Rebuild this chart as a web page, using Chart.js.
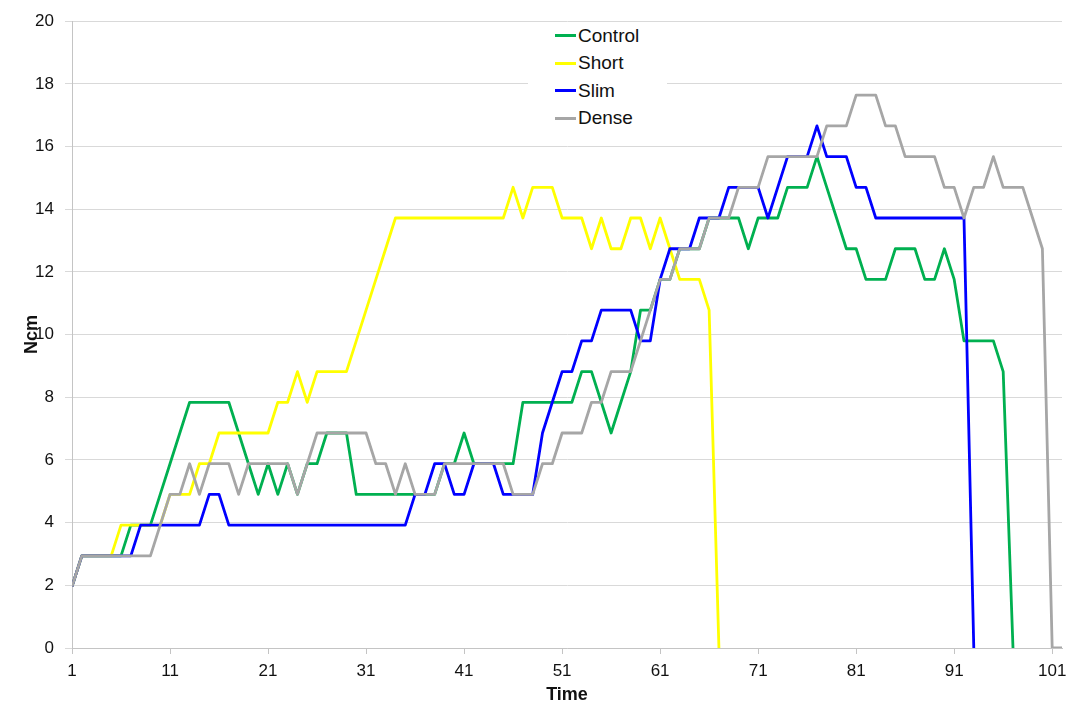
<!DOCTYPE html>
<html>
<head>
<meta charset="utf-8">
<title>Ncm over time</title>
<script src="https://cdn.jsdelivr.net/npm/chart.js@4/dist/chart.umd.min.js"></script>
<style>
  body { margin: 0; background: #fff; }
  #wrap { position: relative; width: 1070px; height: 707px; }
  #legend {
    position: absolute; left: 528px; top: 22px; width: 139px; height: 112px;
    background: #fff; font-family: "Liberation Sans", Arial, sans-serif;
    font-size: 19px; color: #111;
  }
  .item { display: flex; align-items: center; height: 27.5px; }
  .swatch { width: 21px; height: 3px; margin-left: 27px; margin-right: 2px; }
</style>
</head>
<body>
<div id="wrap">
  <canvas id="chart" width="1070" height="707"></canvas>
  <div id="legend"></div>
</div>
<script>
// time steps 1..102 on the x axis
const time = Array.from({length: 102}, (_, i) => i + 1)
const xTicks = [1, 11, 21, 31, 41, 51, 61, 71, 81, 91, 101]

const names = ['Control', 'Short', 'Slim', 'Dense']
const colors = ['#00b050', '#ffff00', '#0000ff', '#a6a6a6']

// Ncm values, 10 per row
const control = [
  1.96, 2.94, 2.94, 2.94, 2.94, 2.94, 3.92, 3.92, 3.92, 4.9,
  5.88, 6.86, 7.84, 7.84, 7.84, 7.84, 7.84, 6.86, 5.88, 4.9,
  5.88, 4.9, 5.88, 4.9, 5.88, 5.88, 6.86, 6.86, 6.86, 4.9,
  4.9, 4.9, 4.9, 4.9, 4.9, 4.9, 4.9, 4.9, 5.88, 5.88,
  6.86, 5.88, 5.88, 5.88, 5.88, 5.88, 7.84, 7.84, 7.84, 7.84,
  7.84, 7.84, 8.82, 8.82, 7.84, 6.86, 7.84, 8.82, 10.78, 10.78,
  11.76, 11.76, 12.74, 12.74, 12.74, 13.72, 13.72, 13.72, 13.72, 12.74,
  13.72, 13.72, 13.72, 14.7, 14.7, 14.7, 15.68, 14.7, 13.72, 12.74,
  12.74, 11.76, 11.76, 11.76, 12.74, 12.74, 12.74, 11.76, 11.76, 12.74,
  11.76, 9.8, 9.8, 9.8, 9.8, 8.82, 0, null, null, null,
  null, null
]
const short = [
  1.96, 2.94, 2.94, 2.94, 2.94, 3.92, 3.92, 3.92, 3.92, 3.92,
  4.9, 4.9, 4.9, 5.88, 5.88, 6.86, 6.86, 6.86, 6.86, 6.86,
  6.86, 7.84, 7.84, 8.82, 7.84, 8.82, 8.82, 8.82, 8.82, 9.8,
  10.78, 11.76, 12.74, 13.72, 13.72, 13.72, 13.72, 13.72, 13.72, 13.72,
  13.72, 13.72, 13.72, 13.72, 13.72, 14.7, 13.72, 14.7, 14.7, 14.7,
  13.72, 13.72, 13.72, 12.74, 13.72, 12.74, 12.74, 13.72, 13.72, 12.74,
  13.72, 12.74, 11.76, 11.76, 11.76, 10.78, 0, null, null, null,
  null, null, null, null, null, null, null, null, null, null,
  null, null, null, null, null, null, null, null, null, null,
  null, null, null, null, null, null, null, null, null, null,
  null, null
]
const slim = [
  1.96, 2.94, 2.94, 2.94, 2.94, 2.94, 2.94, 3.92, 3.92, 3.92,
  3.92, 3.92, 3.92, 3.92, 4.9, 4.9, 3.92, 3.92, 3.92, 3.92,
  3.92, 3.92, 3.92, 3.92, 3.92, 3.92, 3.92, 3.92, 3.92, 3.92,
  3.92, 3.92, 3.92, 3.92, 3.92, 4.9, 4.9, 5.88, 5.88, 4.9,
  4.9, 5.88, 5.88, 5.88, 4.9, 4.9, 4.9, 4.9, 6.86, 7.84,
  8.82, 8.82, 9.8, 9.8, 10.78, 10.78, 10.78, 10.78, 9.8, 9.8,
  11.76, 12.74, 12.74, 12.74, 13.72, 13.72, 13.72, 14.7, 14.7, 14.7,
  14.7, 13.72, 14.7, 15.68, 15.68, 15.68, 16.66, 15.68, 15.68, 15.68,
  14.7, 14.7, 13.72, 13.72, 13.72, 13.72, 13.72, 13.72, 13.72, 13.72,
  13.72, 13.72, 0, null, null, null, null, null, null, null,
  null, null
]
const dense = [
  1.96, 2.94, 2.94, 2.94, 2.94, 2.94, 2.94, 2.94, 2.94, 3.92,
  4.9, 4.9, 5.88, 4.9, 5.88, 5.88, 5.88, 4.9, 5.88, 5.88,
  5.88, 5.88, 5.88, 4.9, 5.88, 6.86, 6.86, 6.86, 6.86, 6.86,
  6.86, 5.88, 5.88, 4.9, 5.88, 4.9, 4.9, 4.9, 5.88, 5.88,
  5.88, 5.88, 5.88, 5.88, 5.88, 4.9, 4.9, 4.9, 5.88, 5.88,
  6.86, 6.86, 6.86, 7.84, 7.84, 8.82, 8.82, 8.82, 9.8, 10.78,
  11.76, 11.76, 12.74, 12.74, 12.74, 13.72, 13.72, 13.72, 14.7, 14.7,
  14.7, 15.68, 15.68, 15.68, 15.68, 15.68, 15.68, 16.66, 16.66, 16.66,
  17.64, 17.64, 17.64, 16.66, 16.66, 15.68, 15.68, 15.68, 15.68, 14.7,
  14.7, 13.72, 14.7, 14.7, 15.68, 14.7, 14.7, 14.7, 13.72, 12.74,
  0, 0
]
const series = [control, short, slim, dense]

Chart.defaults.font.family = '"Liberation Sans", Arial, sans-serif'
Chart.defaults.color = '#111'

const axisGrey = '#c4c4c4'
const gridGrey = '#d9d9d9'

const datasets = series.map((vals, s) => ({
  label: names[s],
  data: time.map((t, i) => ({x: t, y: vals[i]})),
  borderColor: colors[s],
  backgroundColor: colors[s],
  borderWidth: 2.8,
  pointRadius: 0,
  tension: 0,
  fill: false,
  borderJoinStyle: 'round',
  // excel draws later series on top
  order: series.length - s
}))

new Chart(document.getElementById('chart'), {
  type: 'line',
  data: {datasets: datasets},
  options: {
    responsive: false,
    animation: false,
    devicePixelRatio: 1,
    layout: {padding: {top: 20, right: 8, bottom: 0, left: 0}},
    plugins: {
      legend: {display: false},
      tooltip: {enabled: false}
    },
    scales: {
      x: {
        type: 'linear',
        min: 1,
        max: 102,
        afterBuildTicks: (axis) => { axis.ticks = xTicks.map(v => ({value: v})) },
        afterFit: (axis) => {
          axis.height = 59
          axis.paddingLeft = 0
          axis.paddingRight = 8
        },
        ticks: {font: {size: 17}, padding: 7, maxRotation: 0, autoSkip: false},
        grid: {drawOnChartArea: false, drawTicks: true, tickLength: 6, color: axisGrey},
        border: {color: axisGrey},
        title: {display: true, text: 'Time', font: {size: 18, weight: 'bold'}, padding: {top: 3, bottom: 1}}
      },
      y: {
        min: 0,
        max: 20,
        afterFit: (axis) => { axis.width = 72 },
        ticks: {stepSize: 2, font: {size: 17}, padding: 11},
        grid: {color: gridGrey, tickLength: 7},
        border: {color: axisGrey},
        title: {display: true, text: 'Ncm', font: {size: 18, weight: 'bold'}, padding: {top: 21, bottom: 0}}
      }
    }
  }
})

// legend box sits inside the plot, like the original
const legend = document.getElementById('legend')
names.forEach((name, s) => {
  const row = document.createElement('div')
  row.className = 'item'
  const sw = document.createElement('span')
  sw.className = 'swatch'
  sw.style.background = colors[s]
  row.appendChild(sw)
  row.appendChild(document.createTextNode(name))
  legend.appendChild(row)
})
</script>
</body>
</html>
